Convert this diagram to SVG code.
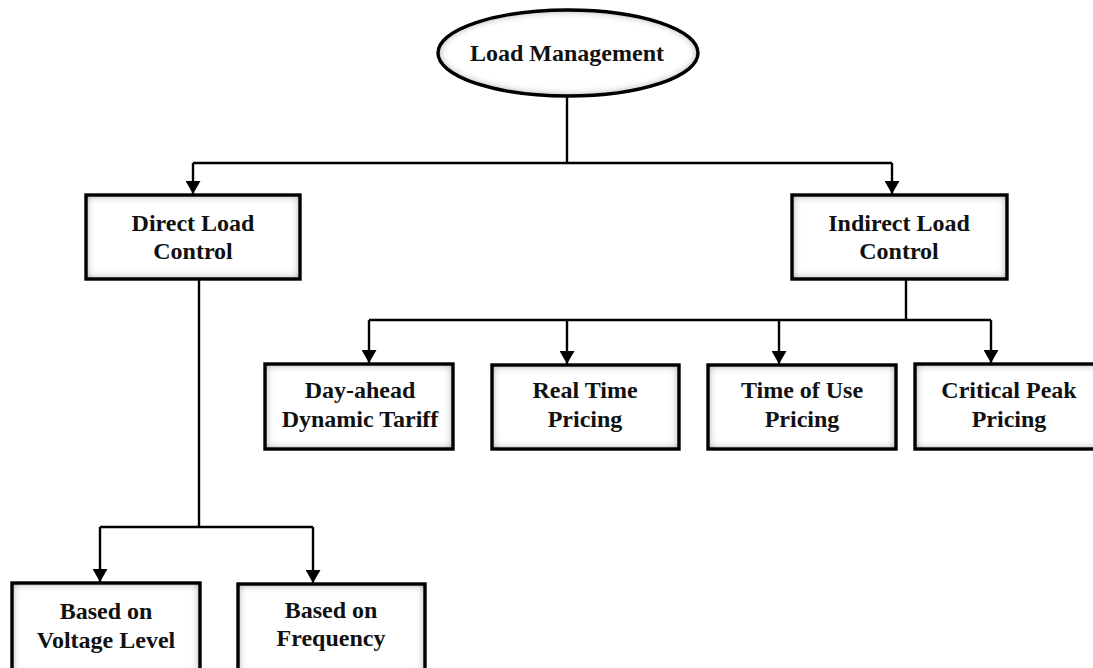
<svg xmlns="http://www.w3.org/2000/svg" width="1093" height="668" viewBox="0 0 1093 668">
<style>
.shade{fill:#ffffff;stroke:none;filter:url(#inset)}
.frame{fill:none;stroke:#000000;stroke-width:3.4}
.lbl{font-family:"Liberation Serif","Times New Roman",serif;font-weight:bold;font-size:24px;fill:#111111;text-anchor:middle}
.conn{fill:none;stroke:#000000;stroke-width:2.4}
</style>
<defs>
<filter id="inset" x="-10%" y="-20%" width="120%" height="140%">
<feFlood flood-color="#555555" result="f"/>
<feComposite in="f" in2="SourceAlpha" operator="out" result="outside"/>
<feGaussianBlur in="outside" stdDeviation="4" result="blur"/>
<feComposite in="blur" in2="SourceAlpha" operator="in" result="shadow"/>
<feMerge><feMergeNode in="SourceGraphic"/><feMergeNode in="shadow"/></feMerge>
</filter>
<marker id="arrow" markerUnits="userSpaceOnUse" markerWidth="14" markerHeight="15" refX="13" refY="7.5" orient="auto">
<path d="M0,0 L13,7.5 L0,15 z" fill="#000000"/>
</marker>
</defs>
<rect width="1093" height="668" fill="#ffffff"/>
<g id="connectors">
<polyline class="conn" points="567,97 567,163"/>
<polyline class="conn" points="193,163 892,163"/>
<line class="conn" x1="193" y1="163" x2="193" y2="194" marker-end="url(#arrow)"/>
<line class="conn" x1="892" y1="163" x2="892" y2="194" marker-end="url(#arrow)"/>
<polyline class="conn" points="199,279 199,527"/>
<polyline class="conn" points="100,527 313,527"/>
<line class="conn" x1="100" y1="527" x2="100" y2="582" marker-end="url(#arrow)"/>
<line class="conn" x1="313" y1="527" x2="313" y2="583" marker-end="url(#arrow)"/>
<polyline class="conn" points="906,279 906,320"/>
<polyline class="conn" points="369,320 991,320"/>
<line class="conn" x1="369" y1="320" x2="369" y2="363" marker-end="url(#arrow)"/>
<line class="conn" x1="567" y1="320" x2="567" y2="364" marker-end="url(#arrow)"/>
<line class="conn" x1="779" y1="320" x2="779" y2="364" marker-end="url(#arrow)"/>
<line class="conn" x1="991" y1="320" x2="991" y2="363" marker-end="url(#arrow)"/>
</g>
<g id="load-management">
<ellipse class="shade" cx="568" cy="53" rx="130" ry="43"/>
<ellipse class="frame" cx="568" cy="53" rx="130" ry="43"/>
<text class="lbl" x="567" y="61">Load Management</text>
</g>
<g id="direct-load-control">
<rect class="shade" x="86" y="195" width="214" height="84"/>
<rect class="frame" x="86" y="195" width="214" height="84"/>
<text class="lbl" x="193" y="231">Direct Load</text>
<text class="lbl" x="193" y="259">Control</text>
</g>
<g id="indirect-load-control">
<rect class="shade" x="792" y="195" width="215" height="84"/>
<rect class="frame" x="792" y="195" width="215" height="84"/>
<text class="lbl" x="899" y="231">Indirect Load</text>
<text class="lbl" x="899" y="259">Control</text>
</g>
<g id="day-ahead">
<rect class="shade" x="265" y="364" width="188" height="85"/>
<rect class="frame" x="265" y="364" width="188" height="85"/>
<text class="lbl" x="360" y="398">Day-ahead</text>
<text class="lbl" x="360" y="427">Dynamic Tariff</text>
</g>
<g id="real-time">
<rect class="shade" x="492" y="365" width="187" height="84"/>
<rect class="frame" x="492" y="365" width="187" height="84"/>
<text class="lbl" x="585" y="398">Real Time</text>
<text class="lbl" x="585" y="427">Pricing</text>
</g>
<g id="time-of-use">
<rect class="shade" x="708" y="365" width="188" height="84"/>
<rect class="frame" x="708" y="365" width="188" height="84"/>
<text class="lbl" x="802" y="398">Time of Use</text>
<text class="lbl" x="802" y="427">Pricing</text>
</g>
<g id="critical-peak">
<rect class="shade" x="915" y="364" width="188" height="85"/>
<rect class="frame" x="915" y="364" width="188" height="85"/>
<text class="lbl" x="1009" y="398">Critical Peak</text>
<text class="lbl" x="1009" y="427">Pricing</text>
</g>
<g id="voltage-level">
<rect class="shade" x="12" y="583" width="188" height="100"/>
<rect class="frame" x="12" y="583" width="188" height="100"/>
<text class="lbl" x="106" y="619">Based on</text>
<text class="lbl" x="106" y="648">Voltage Level</text>
</g>
<g id="frequency">
<rect class="shade" x="238" y="584" width="187" height="100"/>
<rect class="frame" x="238" y="584" width="187" height="100"/>
<text class="lbl" x="331" y="618">Based on</text>
<text class="lbl" x="331" y="646">Frequency</text>
</g>
</svg>
